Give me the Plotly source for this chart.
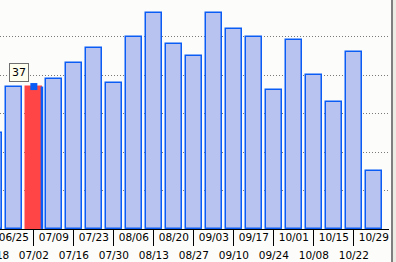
import plotly.graph_objects as go

weeks = ["06/18", "06/25", "07/02", "07/09", "07/16", "07/23", "07/30", "08/06",
         "08/13", "08/20", "08/27", "09/03", "09/10", "09/17", "09/24", "10/01",
         "10/08", "10/15", "10/22", "10/29"]
values = [25, 37, 37, 39, 43, 47, 38, 50, 56, 48, 45, 56, 52, 50, 36, 49, 40, 33, 46, 15]
highlight = "07/02"

W, H = 396, 262
plot_w, plot_h = 389, 229
px_per_week = 20.0
px_per_unit = 3.85
first_center_px = -6.15
bar_w = 0.81

idx = list(range(len(weeks)))
hi = weeks.index(highlight)
x0 = -first_center_px / px_per_week
x_range = [x0, x0 + plot_w / px_per_week]
y_range = [0, plot_h / px_per_unit]

fill = ["#ff4545" if i == hi else "#b8c3ef" for i in idx]
edge = ["#ff4545" if i == hi else "#0a5cf5" for i in idx]

fig = go.Figure()
fig.add_trace(go.Bar(x=idx, y=values, width=bar_w,
                     marker=dict(color=fill, line=dict(color=edge, width=1.5)),
                     hoverinfo="skip", showlegend=False))
# selection edge on the right of highlighted bar
fig.add_trace(go.Scatter(x=[hi + bar_w / 2, hi + bar_w / 2], y=[0, values[hi]],
                         mode="lines", line=dict(color="#0a5cf5", width=2.5),
                         hoverinfo="skip", showlegend=False))
fig.add_trace(go.Scatter(x=[hi], y=[values[hi]], mode="markers",
                         marker=dict(symbol="square", size=7, color="#0a5cf5"),
                         hoverinfo="skip", showlegend=False))
# carrier for the second label row axis
fig.add_trace(go.Scatter(x=idx[1::2], y=[values[i] for i in idx[1::2]], xaxis="x2",
                         mode="markers", marker=dict(opacity=0),
                         hoverinfo="skip", showlegend=False))

font = dict(family="DejaVu Sans, Verdana, sans-serif", size=10.5, color="#000000")

# label of the first (partly cut) week, whose tick lies left of the visible range
first_paper_x = (idx[0] - x_range[0]) / (x_range[1] - x_range[0]) * plot_w / W

fig.update_layout(
    width=W, height=H, margin=dict(l=0, r=0, t=0, b=0),
    paper_bgcolor="#fcfcfa", plot_bgcolor="#fcfcfa",
    font=font,
    xaxis=dict(domain=[0, plot_w / W], range=x_range,
               tickmode="array", tickvals=idx[0::2], ticktext=weeks[0::2],
               ticks="outside", ticklen=16, tickwidth=1, tickcolor="#000000",
               showline=True, linecolor="#000000", linewidth=1,
               showgrid=False, zeroline=False, tickfont=font,
               ticklabeloverflow="allow"),
    xaxis2=dict(domain=[0, plot_w / W], range=x_range, overlaying="x", anchor="y",
                side="bottom", tickmode="array", tickvals=idx[1::2],
                ticktext=weeks[1::2], ticks="", showline=False, showgrid=False,
                zeroline=False, tickfont=font, ticklabeloverflow="allow"),
    yaxis=dict(domain=[1 - plot_h / H, 1], range=y_range,
               tickvals=[10, 20, 30, 40, 50], showticklabels=False,
               showgrid=True, gridcolor="#7a7a7a", gridwidth=1, griddash="1px,2px",
               zeroline=False, showline=False, ticks=""),
    bargap=0,
    shapes=[
        dict(type="rect", xref="paper", yref="paper", x0=393 / W, x1=1, y0=0, y1=1,
             fillcolor="#ecebe4", line=dict(width=0), layer="below"),
        dict(type="line", xref="paper", yref="paper", x0=392 / W, x1=392 / W, y0=0, y1=1,
             line=dict(color="#7f7f7f", width=2)),
    ],
    annotations=[
        dict(x=first_paper_x, y=1 - 254.5 / H, xref="paper", yref="paper",
             text=weeks[0], showarrow=False, xanchor="center", yanchor="middle",
             font=font),
        dict(x=hi, y=values[hi], xref="x", yref="y", text=str(values[hi]),
             showarrow=True, arrowcolor="rgba(0,0,0,0)", ax=-15, ay=-14,
             bgcolor="#fffff0", bordercolor="#707070", borderwidth=1, borderpad=2,
             font=dict(family="DejaVu Sans, Verdana, sans-serif", size=11, color="#000000")),
    ],
)

fig.write_html("out.html")
